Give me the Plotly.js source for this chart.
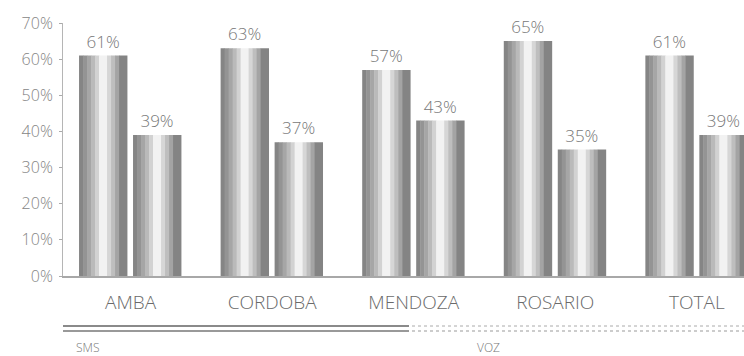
<!DOCTYPE html>
<html>
<head>
<meta charset="utf-8">
<script src="https://cdn.plot.ly/plotly-3.0.1.min.js"></script>
<style>html,body{margin:0;padding:0;background:#fff;}#chart{width:744px;height:356px;}</style>
</head>
<body>
<div id="chart"></div>
<script>
// ---- data ----
const categories = ["AMBA", "CORDOBA", "MENDOZA", "ROSARIO", "TOTAL"];
const smsValues = [61, 63, 57, 65, 61];
const vozValues = [39, 37, 43, 35, 39];
const seriesNames = ["SMS", "VOZ"];
const yTickValues = [0, 10, 20, 30, 40, 50, 60, 70];
const yTickText = ["0%", "10%", "20%", "30%", "40%", "50%", "60%", "70%"];

// ---- styling ----
const FONT = "'Open Sans', 'DejaVu Sans', sans-serif";
const PX_PER_UNIT = 141.6;       // pixels per category on x scale
const BAR_PX = 48;
const SERIES_LEFT_PX = [-51.5, 2.5];
// cylinder shading stripes: [start px, width px, colour]
const stripes = [
  [0, 4, '#858585'], [4, 4, '#949494'], [8, 4, '#a6a6a6'], [12, 4, '#bababa'],
  [16, 4, '#d2d2d2'], [20, 8, '#f2f2f2'], [28, 4, '#d6d6d6'], [32, 4, '#bebebe'],
  [36, 4, '#a4a4a4'], [40, 8, '#848484']
];

const traces = [];
[smsValues, vozValues].forEach((vals, si) => {
  stripes.forEach(s => {
    traces.push({
      type: 'bar', x: categories, y: vals, name: seriesNames[si],
      offset: (SERIES_LEFT_PX[si] + s[0]) / PX_PER_UNIT,
      width: (s[1] + 0.4) / PX_PER_UNIT,
      marker: {color: s[2], line: {width: 0}},
      hoverinfo: 'skip', showlegend: false
    });
  });
  traces.push({
    type: 'bar', x: categories, y: vals, name: seriesNames[si],
    offset: SERIES_LEFT_PX[si] / PX_PER_UNIT, width: BAR_PX / PX_PER_UNIT,
    marker: {color: 'rgba(0,0,0,0)', line: {width: 0}},
    text: vals.map(v => v + '%'), textposition: 'outside', cliponaxis: false,
    textfont: {family: FONT, size: 17, color: '#777777', weight: 300},
    hoverinfo: 'skip', showlegend: false
  });
});

const plotLeft = 63, plotRight = 744, plotTop = 23, plotBottom = 276;
const py = p => (plotBottom - p) / (plotBottom - plotTop);
const px = p => (p - plotLeft) / (plotRight - plotLeft);

const layout = {
  width: 744, height: 356,
  margin: {l: plotLeft, r: 744 - plotRight, t: plotTop, b: 356 - plotBottom, pad: 0},
  paper_bgcolor: '#fff', plot_bgcolor: '#fff',
  barmode: 'overlay', showlegend: false,
  font: {family: FONT, color: '#777', weight: 300},
  xaxis: {
    type: 'category', range: [-0.477, 4.333], showgrid: false, zeroline: false,
    showline: true, linecolor: '#a8a8a8', linewidth: 2, ticks: '',
    tickfont: {family: FONT, size: 19, color: '#6a6a6a', weight: 300},
    ticklabelstandoff: 8
  },
  yaxis: {
    range: [0, 70], tickmode: 'array', tickvals: yTickValues, ticktext: yTickText,
    showgrid: false, zeroline: false, showline: true, linecolor: '#b5b5b5', linewidth: 1,
    ticks: 'outside', ticklen: 3, tickcolor: '#aaa',
    tickfont: {family: FONT, size: 16, color: '#858585', weight: 300},
    ticklabelstandoff: 3
  },
  shapes: [
    {type: 'line', xref: 'paper', yref: 'paper', x0: px(63), x1: px(409), y0: py(326), y1: py(326), line: {color: '#8a8a8a', width: 2}},
    {type: 'line', xref: 'paper', yref: 'paper', x0: px(63), x1: px(409), y0: py(331), y1: py(331), line: {color: '#999', width: 2}},
    {type: 'line', xref: 'paper', yref: 'paper', x0: px(412), x1: px(744), y0: py(326), y1: py(326), line: {color: '#aaa', width: 1, dash: 'dot'}},
    {type: 'line', xref: 'paper', yref: 'paper', x0: px(412), x1: px(744), y0: py(331), y1: py(331), line: {color: '#999', width: 1, dash: 'dot'}}
  ],
  annotations: [
    {xref: 'paper', yref: 'paper', x: px(87), y: py(347), xanchor: 'center', yanchor: 'middle', text: seriesNames[0], showarrow: false,
     font: {family: FONT, size: 12, color: '#777', weight: 300}},
    {xref: 'paper', yref: 'paper', x: px(488), y: py(347), xanchor: 'center', yanchor: 'middle', text: seriesNames[1], showarrow: false,
     font: {family: FONT, size: 12, color: '#777', weight: 300}}
  ]
};

Plotly.newPlot('chart', traces, layout, {staticPlot: true, displayModeBar: false});
</script>
</body>
</html>
